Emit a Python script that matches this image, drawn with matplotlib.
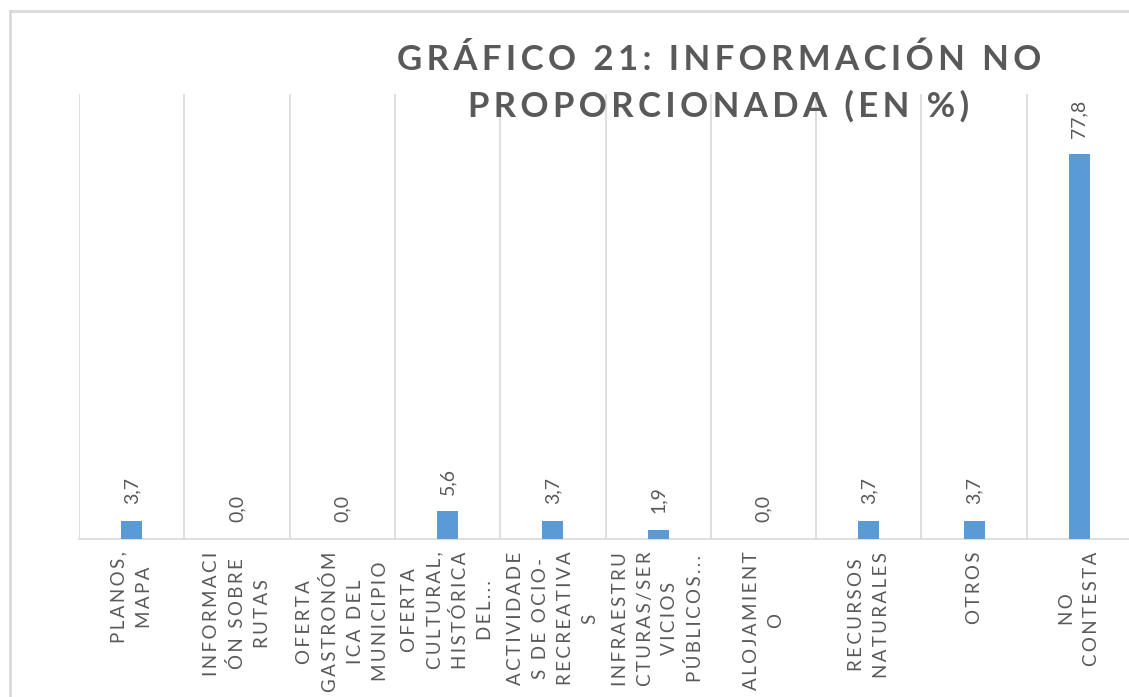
import matplotlib
matplotlib.use("Agg")
import matplotlib.pyplot as plt
from matplotlib.lines import Line2D

categories = [
    "PLANOS,\nMAPA",
    "INFORMACI\nÓN SOBRE\nRUTAS",
    "OFERTA\nGASTRONÓM\nICA DEL\nMUNICIPIO",
    "OFERTA\nCULTURAL,\nHISTÓRICA\nDEL...",
    "ACTIVIDADE\nS DE OCIO-\nRECREATIVA\nS",
    "INFRAESTRU\nCTURAS/SER\nVICIOS\nPÚBLICOS...",
    "ALOJAMIENT\nO",
    "RECURSOS\nNATURALES",
    "OTROS",
    "NO\nCONTESTA",
]
values = [3.7, 0.0, 0.0, 5.6, 3.7, 1.9, 0.0, 3.7, 3.7, 77.8]

title = "GRÁFICO 21: INFORMACIÓN NO\nPROPORCIONADA (EN %)"

BAR = "#5b9bd5"
TXT = "#595959"
GRID = "#d9d9d9"
FONTS = ["Lato", "DejaVu Sans"]


def spaced(s, sep="\u2009"):
    # excel style letter spacing
    return "\n".join(sep.join(line) for line in s.split("\n"))


W, H = 1129, 697
fig = plt.figure(figsize=(W / 100, H / 100), dpi=100)
fig.patch.set_facecolor("white")

# chart area border (only top and left visible in the crop)
fig.add_artist(Line2D([10 / W, 10 / W], [0, 1 - 11 / H], color=GRID, lw=2))
fig.add_artist(Line2D([10 / W, 1], [1 - 11 / H, 1 - 11 / H], color=GRID, lw=2))

left, right = 79 / W, 1132 / W
bottom, top = 1 - 539 / H, 1 - 94 / H
ax = fig.add_axes([left, bottom, right - left, top - bottom])

x = list(range(len(values)))
ax.bar(x, values, width=0.2, color=BAR, zorder=3)

for k in range(len(values) + 1):
    ax.axvline(k - 0.5, color=GRID, lw=1.2, zorder=1)

ax.set_xlim(-0.5, len(values) - 0.5)
ax.set_ylim(0, 90)
ax.set_yticks([])
for side in ["top", "right", "left"]:
    ax.spines[side].set_visible(False)
ax.spines["bottom"].set_color(GRID)
ax.spines["bottom"].set_linewidth(1.2)

for xi, v in zip(x, values):
    ax.annotate(f"{v:.1f}".replace(".", ","), (xi, v), xytext=(0, 12),
                textcoords="offset points", rotation=90, ha="center", va="bottom",
                fontsize=14, color=TXT, family=FONTS)

ax.set_xticks(x)
ax.set_xticklabels([spaced(c) for c in categories], rotation=90, ha="center", va="top",
                   multialignment="center", fontsize=13.5, color=TXT, family=FONTS,
                   linespacing=1.55)
ax.tick_params(axis="x", length=0, pad=9)

fig.text(719 / W, 1 - 83 / H, spaced(title, "\u2009"), ha="center", va="center",
         fontsize=25, fontweight="bold", color=TXT, family=FONTS, linespacing=1.55)

fig.savefig("out.png", dpi=100)
